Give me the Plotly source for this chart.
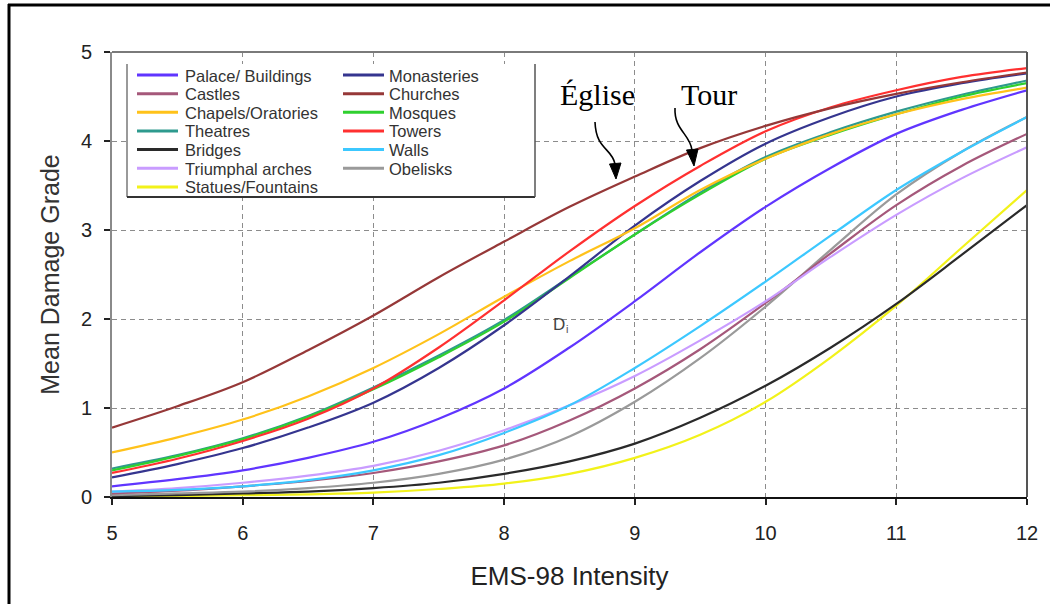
import plotly.graph_objects as go

# ---------------- data ----------------
intensity = [5, 5.5, 6, 6.5, 7, 7.5, 8, 8.5, 9, 9.5, 10, 10.5, 11, 11.5, 12]

palace      = [0.12, 0.20, 0.30, 0.44, 0.62, 0.88, 1.22, 1.68, 2.20, 2.75, 3.26, 3.70, 4.08, 4.35, 4.57]
monasteries = [0.22, 0.37, 0.55, 0.78, 1.06, 1.45, 1.93, 2.48, 3.05, 3.55, 3.97, 4.27, 4.50, 4.65, 4.76]
castles     = [0.04, 0.07, 0.12, 0.18, 0.27, 0.40, 0.58, 0.86, 1.22, 1.66, 2.18, 2.74, 3.28, 3.72, 4.08]
churches    = [0.78, 1.02, 1.29, 1.65, 2.04, 2.47, 2.87, 3.26, 3.60, 3.92, 4.17, 4.37, 4.53, 4.66, 4.77]
chapels     = [0.50, 0.67, 0.87, 1.13, 1.45, 1.83, 2.25, 2.65, 3.02, 3.45, 3.80, 4.08, 4.30, 4.47, 4.60]
mosques     = [0.30, 0.46, 0.65, 0.90, 1.21, 1.57, 1.97, 2.46, 2.95, 3.40, 3.80, 4.07, 4.30, 4.50, 4.65]
theatres    = [0.32, 0.47, 0.66, 0.91, 1.23, 1.59, 1.99, 2.47, 2.95, 3.42, 3.82, 4.10, 4.33, 4.52, 4.68]
towers      = [0.27, 0.43, 0.63, 0.88, 1.22, 1.68, 2.21, 2.76, 3.27, 3.72, 4.11, 4.38, 4.57, 4.72, 4.82]
bridges     = [0.01, 0.02, 0.04, 0.06, 0.10, 0.16, 0.26, 0.40, 0.60, 0.89, 1.25, 1.68, 2.17, 2.72, 3.28]
walls       = [0.06, 0.08, 0.12, 0.19, 0.30, 0.47, 0.72, 1.03, 1.45, 1.92, 2.42, 2.94, 3.45, 3.88, 4.27]
triumphal   = [0.06, 0.10, 0.16, 0.24, 0.35, 0.52, 0.75, 1.03, 1.36, 1.76, 2.20, 2.70, 3.17, 3.58, 3.93]
obelisks    = [0.02, 0.04, 0.06, 0.10, 0.16, 0.26, 0.42, 0.68, 1.07, 1.56, 2.14, 2.78, 3.40, 3.88, 4.27]
statues     = [0.00, 0.01, 0.02, 0.03, 0.05, 0.09, 0.15, 0.26, 0.44, 0.70, 1.07, 1.57, 2.15, 2.80, 3.45]

series = {
    "Palace/ Buildings": palace,
    "Monasteries": monasteries,
    "Castles": castles,
    "Churches": churches,
    "Chapels/Oratories": chapels,
    "Mosques": mosques,
    "Theatres": theatres,
    "Towers": towers,
    "Bridges": bridges,
    "Walls": walls,
    "Triumphal arches": triumphal,
    "Obelisks": obelisks,
    "Statues/Fountains": statues,
}
colors = {
    "Palace/ Buildings": "#6035FF",
    "Monasteries": "#35358F",
    "Castles": "#A5587A",
    "Churches": "#963838",
    "Chapels/Oratories": "#FFC21A",
    "Mosques": "#2FD02F",
    "Theatres": "#2E9A8E",
    "Towers": "#FF3030",
    "Bridges": "#2A2A2A",
    "Walls": "#3CC8FF",
    "Triumphal arches": "#C99CFF",
    "Obelisks": "#9A9A9A",
    "Statues/Fountains": "#F2F21A",
}
legend_col1 = ["Palace/ Buildings", "Castles", "Chapels/Oratories", "Theatres",
               "Bridges", "Triumphal arches", "Statues/Fountains"]
legend_col2 = ["Monasteries", "Churches", "Mosques", "Towers", "Walls", "Obelisks"]
draw_order = ["Statues/Fountains", "Bridges", "Obelisks", "Castles", "Triumphal arches",
              "Walls", "Palace/ Buildings", "Theatres", "Mosques", "Monasteries",
              "Chapels/Oratories", "Towers", "Churches"]

x_ticks = [5, 6, 7, 8, 9, 10, 11, 12]
y_ticks = [0, 1, 2, 3, 4, 5]

# ---------------- layout geometry ----------------
W, H = 1050, 604
ML, MR, MT, MB = 112, 23, 52, 107
PW, PH = W - ML - MR, H - MT - MB


def px(xp):
    return (xp - ML) / PW


def py(yp):
    return (H - MB - yp) / PH


fig = go.Figure()
for name in draw_order:
    fig.add_trace(go.Scatter(
        x=intensity, y=series[name], mode="lines", name=name,
        line=dict(color=colors[name], width=2.2, shape="spline", smoothing=1.0),
        showlegend=False, hoverinfo="x+y+name"))

shapes = []
annotations = []

# plot frame (top / right grey lines)
shapes.append(dict(type="line", xref="paper", yref="paper", x0=0, x1=1, y0=1, y1=1,
                   line=dict(color="#7a7a7a", width=2), layer="above"))
shapes.append(dict(type="line", xref="paper", yref="paper", x0=1, x1=1, y0=0, y1=1,
                   line=dict(color="#555555", width=2), layer="above"))

# outer picture border (left / top)
shapes.append(dict(type="line", xref="paper", yref="paper", x0=px(9), x1=px(9),
                   y0=py(4), y1=py(610), line=dict(color="#000", width=3)))
shapes.append(dict(type="line", xref="paper", yref="paper", x0=px(8), x1=px(1055),
                   y0=py(5), y1=py(5), line=dict(color="#000", width=3)))

# legend box
lb_x0, lb_x1, lb_y0, lb_y1 = 127, 535, 64, 197
shapes.append(dict(type="rect", xref="paper", yref="paper", x0=px(lb_x0), x1=px(lb_x1),
                   y0=py(lb_y1), y1=py(lb_y0), fillcolor="white",
                   line=dict(width=0), layer="above"))
shapes.append(dict(type="line", xref="paper", yref="paper", x0=px(lb_x0), x1=px(lb_x0),
                   y0=py(lb_y1), y1=py(lb_y0), line=dict(color="#9a9a9a", width=2), layer="above"))
shapes.append(dict(type="line", xref="paper", yref="paper", x0=px(lb_x0), x1=px(lb_x1),
                   y0=py(lb_y1), y1=py(lb_y1), line=dict(color="#333", width=2), layer="above"))
shapes.append(dict(type="line", xref="paper", yref="paper", x0=px(lb_x1), x1=px(lb_x1),
                   y0=py(lb_y1), y1=py(lb_y0), line=dict(color="#555", width=1.5), layer="above"))

row0, row_gap = 75, 18.65
for col, (names, sx0, sx1, tx) in enumerate([(legend_col1, 137, 178, 183),
                                             (legend_col2, 343, 384, 387)]):
    for r, name in enumerate(names):
        yy = row0 + r * row_gap
        shapes.append(dict(type="line", xref="paper", yref="paper", x0=px(sx0), x1=px(sx1),
                           y0=py(yy), y1=py(yy), line=dict(color=colors[name], width=3),
                           layer="above"))
        annotations.append(dict(xref="paper", yref="paper", x=px(tx), y=py(yy + 0.5),
                                xanchor="left", yanchor="middle", showarrow=False,
                                text=name, font=dict(family="Liberation Sans", size=16.5,
                                                     color="#333")))

# annotations: Église / Tour with curved arrows
annotations.append(dict(xref="paper", yref="paper", x=px(597), y=py(95), text="Église",
                        showarrow=False, xanchor="center", yanchor="middle",
                        font=dict(family="Liberation Serif", size=30, color="#000")))
annotations.append(dict(xref="paper", yref="paper", x=px(709), y=py(95), text="Tour",
                        showarrow=False, xanchor="center", yanchor="middle",
                        font=dict(family="Liberation Serif", size=30, color="#000")))
annotations.append(dict(x=8.42, y=1.94, text="D", showarrow=False,
                        xanchor="center", yanchor="middle",
                        font=dict(family="Liberation Sans", size=17, color="#444")))
annotations.append(dict(x=8.48, y=1.885, text="i", showarrow=False,
                        xanchor="center", yanchor="middle",
                        font=dict(family="Liberation Sans", size=11, color="#555")))


def ppath(points, close=False, curve=False):
    pts = [f"{px(a):.5f},{py(b):.5f}" for a, b in points]
    if curve:
        return f"M {pts[0]} C {pts[1]} {pts[2]} {pts[3]}"
    return "M " + " L ".join(pts) + (" Z" if close else "")


for tail, head in [
    ([(595, 122), (596, 150), (612, 148), (615, 164)], [(609.5, 164), (621, 163), (616, 179)]),
    ([(675, 108), (674, 130), (690, 134), (692, 150)], [(686.5, 150), (698, 149), (694, 166)]),
]:
    shapes.append(dict(type="path", xref="paper", yref="paper", path=ppath(tail, curve=True),
                       line=dict(color="#000", width=1.6), layer="above"))
    shapes.append(dict(type="path", xref="paper", yref="paper", path=ppath(head, close=True),
                       fillcolor="#000", line=dict(color="#000", width=1), layer="above"))

axis_common = dict(
    showgrid=True, gridcolor="#8c8c8c", gridwidth=1, griddash="5px,4px",
    zeroline=False, ticks="outside", ticklen=6, tickcolor="#222", tickwidth=2,
    tickfont=dict(family="Liberation Sans", size=20, color="#222"),
)

fig.update_layout(
    width=W, height=H,
    margin=dict(l=ML, r=MR, t=MT, b=MB, pad=0),
    paper_bgcolor="white", plot_bgcolor="white",
    showlegend=False,
    shapes=shapes, annotations=annotations,
    xaxis=dict(range=[5, 12], tickvals=x_ticks, ticktext=[str(v) for v in x_ticks],
               showline=True, linecolor="#111", linewidth=2, ticklabelstandoff=11,
               title=dict(text="EMS-98 Intensity", standoff=24,
                          font=dict(family="Liberation Sans", size=26, color="#222")),
               **axis_common),
    yaxis=dict(range=[0, 5], tickvals=y_ticks, ticktext=[str(v) for v in y_ticks],
               showline=True, linecolor="#8a8a8a", linewidth=2, ticklabelstandoff=8,
               title=dict(text="Mean Damage Grade", standoff=14,
                          font=dict(family="Liberation Sans", size=25, color="#333")),
               **axis_common),
)

fig.write_html("out.html")
